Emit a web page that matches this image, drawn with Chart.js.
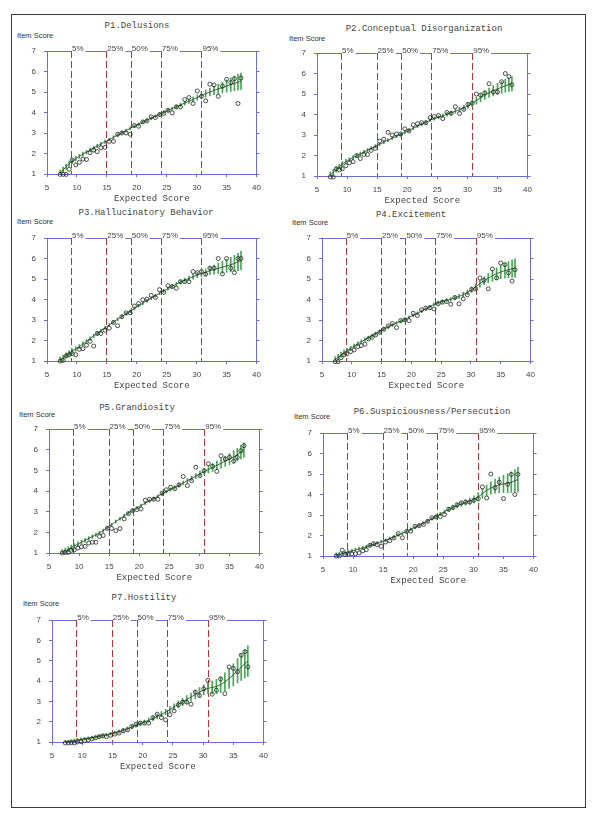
<!DOCTYPE html>
<html>
<head>
<meta charset="utf-8">
<script src="https://cdn.jsdelivr.net/npm/chart.js@4.4.1/dist/chart.umd.min.js"></script>
<style>
body { margin: 0; background: #fff; width: 600px; height: 822px; position: relative; overflow: hidden; }
#frame { position: absolute; left: 11px; top: 14px; width: 573px; height: 792px; border: 1.5px solid #3a3a3a; }
.ttl { position: absolute; font: 9px "Liberation Mono", monospace; color: #444; white-space: nowrap; transform: translate(-50%, -50%); }
.ylab { position: absolute; font: 7.5px "Liberation Sans", Arial, sans-serif; color: #333; white-space: nowrap; transform: translateY(-50%); }
canvas { position: absolute; }
</style>
</head>
<body>
<div id="frame"></div>
<script>
// expected score positions (shared by all items)
const xs = [7.2, 7.7, 8.2, 8.7, 9.2, 9.8, 10.4, 11.0, 11.6, 12.2, 12.8, 13.4, 14.0, 14.7, 15.4, 16.1, 16.8, 17.5, 18.2, 18.9,
  19.6, 20.3, 21.0, 21.7, 22.4, 23.1, 23.8, 24.5, 25.2, 25.9, 26.6, 27.3, 28.0, 28.7, 29.4, 30.1, 30.8, 31.5, 32.2, 32.9,
  33.6, 34.3, 35.0, 35.7, 36.3, 36.9, 37.4];

const xTicks = [5, 10, 15, 20, 25, 30, 35, 40];
const yTicks = [1, 2, 3, 4, 5, 6, 7];
const pctValues = [9.0, 14.9, 19.0, 24.0, 30.8];
const pctLabels = ['5%', '25%', '50%', '75%', '95%'];

const titles = ['P1.Delusions', 'P2.Conceptual Disorganization', 'P3.Hallucinatory Behavior', 'P4.Excitement',
  'P5.Grandiosity', 'P6.Suspiciousness/Persecution', 'P7.Hostility'];

// P1
const p1Exp = [1.05, 1.2, 1.35, 1.5, 1.62, 1.75, 1.86, 1.97, 2.07, 2.17, 2.27, 2.37, 2.46, 2.57, 2.68, 2.79, 2.9, 3.01, 3.12, 3.23,
  3.33, 3.43, 3.53, 3.63, 3.72, 3.82, 3.91, 4.01, 4.1, 4.19, 4.28, 4.37, 4.46, 4.55, 4.64, 4.73, 4.83, 4.92, 5.0, 5.08,
  5.15, 5.22, 5.29, 5.36, 5.42, 5.48, 5.52];
const p1Obs = [0.98, 0.98, 0.98, 1.23, 1.68, 1.44, 1.57, 1.73, 1.71, 2.04, 2.17, 2.09, 2.28, 2.3, 2.59, 2.59, 2.94, 3.0, 3.0, 2.94,
  3.37, 3.33, 3.54, 3.59, 3.79, 3.75, 3.9, 3.95, 4.11, 3.98, 4.27, 4.27, 4.63, 4.73, 4.44, 5.05, 4.79, 4.57, 5.38, 5.34,
  4.79, 5.28, 5.62, 5.46, 5.65, 4.44, 5.68];
const p1Err = [0.14, 0.14, 0.13, 0.13, 0.12, 0.11, 0.1, 0.1, 0.09, 0.09, 0.08, 0.08, 0.08, 0.08, 0.07, 0.07, 0.07, 0.07, 0.07, 0.07,
  0.07, 0.07, 0.07, 0.07, 0.07, 0.07, 0.07, 0.08, 0.08, 0.08, 0.09, 0.09, 0.1, 0.11, 0.12, 0.13, 0.15, 0.17, 0.19, 0.21,
  0.24, 0.27, 0.3, 0.33, 0.36, 0.38, 0.4];

// P2
const p2Exp = [1.05, 1.18, 1.32, 1.46, 1.58, 1.7, 1.8, 1.9, 1.99, 2.08, 2.17, 2.26, 2.35, 2.45, 2.55, 2.65, 2.75, 2.84, 2.93, 3.03,
  3.13, 3.23, 3.33, 3.43, 3.53, 3.62, 3.72, 3.8, 3.87, 3.94, 4.01, 4.08, 4.16, 4.24, 4.33, 4.43, 4.55, 4.68, 4.82, 4.95,
  5.06, 5.16, 5.25, 5.33, 5.4, 5.46, 5.5];
const p2Obs = [0.95, 0.95, 1.35, 1.3, 1.35, 1.5, 1.65, 1.7, 2.0, 1.85, 2.05, 2.05, 2.25, 2.35, 2.7, 2.8, 3.13, 3.0, 3.05, 3.05,
  3.3, 3.2, 3.5, 3.55, 3.6, 3.6, 3.85, 3.9, 3.95, 3.8, 4.1, 4.05, 4.38, 4.05, 4.25, 4.5, 4.55, 5.0, 4.95, 5.05,
  5.5, 5.1, 5.1, 5.6, 6.0, 5.85, 5.45];
const p2Err = [0.14, 0.14, 0.13, 0.12, 0.12, 0.11, 0.1, 0.1, 0.09, 0.09, 0.08, 0.08, 0.08, 0.08, 0.07, 0.07, 0.07, 0.07, 0.07, 0.07,
  0.07, 0.07, 0.07, 0.07, 0.07, 0.07, 0.07, 0.08, 0.08, 0.08, 0.09, 0.09, 0.1, 0.11, 0.12, 0.13, 0.15, 0.17, 0.19, 0.21,
  0.23, 0.25, 0.27, 0.29, 0.31, 0.33, 0.35];

// P3
const p3Exp = [1.05, 1.15, 1.27, 1.38, 1.48, 1.59, 1.7, 1.83, 1.96, 2.09, 2.22, 2.35, 2.48, 2.62, 2.76, 2.9, 3.04, 3.17, 3.3, 3.43,
  3.56, 3.69, 3.82, 3.94, 4.06, 4.18, 4.3, 4.42, 4.53, 4.64, 4.75, 4.85, 4.94, 5.03, 5.11, 5.19, 5.26, 5.33, 5.4, 5.46,
  5.52, 5.58, 5.64, 5.7, 5.76, 5.83, 5.9];
const p3Obs = [1.0, 1.03, 1.25, 1.3, 1.36, 1.31, 1.57, 1.6, 1.77, 1.96, 1.73, 2.34, 2.34, 2.5, 2.6, 2.88, 2.72, 3.16, 3.35, 3.35,
  3.68, 3.8, 3.99, 4.02, 4.2, 4.1, 4.48, 4.35, 4.68, 4.63, 4.55, 4.87, 4.87, 4.87, 5.36, 5.31, 5.36, 5.23, 5.53, 5.53,
  6.0, 5.25, 6.0, 5.53, 5.31, 6.0, 6.0];
const p3Err = [0.14, 0.14, 0.13, 0.13, 0.12, 0.11, 0.1, 0.1, 0.09, 0.09, 0.08, 0.08, 0.08, 0.08, 0.07, 0.07, 0.07, 0.07, 0.07, 0.07,
  0.07, 0.07, 0.07, 0.07, 0.07, 0.07, 0.07, 0.08, 0.08, 0.08, 0.09, 0.09, 0.1, 0.11, 0.12, 0.13, 0.15, 0.17, 0.19, 0.22,
  0.26, 0.29, 0.32, 0.36, 0.39, 0.42, 0.45];

// P4
const p4Exp = [1.07, 1.18, 1.3, 1.41, 1.51, 1.62, 1.73, 1.84, 1.94, 2.04, 2.13, 2.23, 2.33, 2.44, 2.56, 2.66, 2.76, 2.85, 2.94, 3.03,
  3.13, 3.23, 3.33, 3.43, 3.54, 3.65, 3.76, 3.84, 3.9, 3.96, 4.01, 4.07, 4.15, 4.24, 4.35, 4.47, 4.62, 4.77, 4.91, 5.04,
  5.16, 5.26, 5.34, 5.41, 5.46, 5.5, 5.53];
const p4Obs = [0.97, 0.97, 1.16, 1.3, 1.35, 1.46, 1.54, 1.7, 1.75, 1.82, 2.08, 2.16, 2.27, 2.4, 2.55, 2.71, 2.83, 2.63, 2.97, 3.0,
  2.97, 3.33, 3.22, 3.5, 3.58, 3.6, 3.54, 3.79, 3.87, 3.9, 3.77, 4.1, 3.79, 4.03, 4.23, 4.49, 4.52, 5.05, 4.93, 4.52,
  5.49, 5.05, 5.78, 5.7, 5.3, 4.9, 5.45];
const p4Err = [0.14, 0.14, 0.13, 0.13, 0.12, 0.11, 0.1, 0.1, 0.09, 0.09, 0.08, 0.08, 0.08, 0.08, 0.07, 0.07, 0.07, 0.07, 0.07, 0.07,
  0.07, 0.07, 0.07, 0.07, 0.07, 0.07, 0.07, 0.08, 0.08, 0.08, 0.09, 0.09, 0.1, 0.11, 0.12, 0.13, 0.15, 0.17, 0.19, 0.22,
  0.26, 0.29, 0.32, 0.36, 0.39, 0.42, 0.45];

// P5
const p5Exp = [1.03, 1.1, 1.18, 1.26, 1.34, 1.43, 1.52, 1.61, 1.7, 1.79, 1.88, 1.97, 2.08, 2.22, 2.37, 2.52, 2.66, 2.8, 2.94, 3.06,
  3.18, 3.3, 3.41, 3.52, 3.63, 3.75, 3.86, 3.97, 4.07, 4.17, 4.28, 4.39, 4.5, 4.61, 4.72, 4.83, 4.94, 5.04, 5.14, 5.24,
  5.34, 5.44, 5.54, 5.65, 5.76, 5.88, 5.98];
const p5Obs = [1.0, 1.03, 1.03, 1.13, 1.15, 1.24, 1.3, 1.32, 1.48, 1.52, 1.52, 1.8, 1.85, 2.19, 2.19, 2.08, 2.18, 2.65, 2.9, 3.05,
  3.1, 3.13, 3.55, 3.6, 3.6, 3.6, 3.9, 4.06, 4.18, 4.11, 4.3, 4.7, 4.26, 4.5, 5.15, 4.74, 4.98, 5.32, 5.19, 4.95,
  5.71, 5.55, 5.63, 5.44, 5.63, 5.95, 6.19];
const p5Err = [0.14, 0.14, 0.13, 0.12, 0.12, 0.11, 0.1, 0.1, 0.09, 0.09, 0.08, 0.08, 0.08, 0.08, 0.07, 0.07, 0.07, 0.07, 0.07, 0.07,
  0.07, 0.07, 0.07, 0.07, 0.07, 0.07, 0.07, 0.08, 0.08, 0.08, 0.09, 0.09, 0.1, 0.11, 0.12, 0.13, 0.15, 0.17, 0.19, 0.21,
  0.23, 0.25, 0.27, 0.29, 0.31, 0.33, 0.35];

// P6
const p6Exp = [1.05, 1.08, 1.12, 1.16, 1.2, 1.25, 1.3, 1.35, 1.4, 1.45, 1.51, 1.57, 1.63, 1.7, 1.77, 1.85, 1.93, 2.02, 2.11, 2.2,
  2.3, 2.4, 2.5, 2.6, 2.71, 2.82, 2.93, 3.05, 3.16, 3.27, 3.37, 3.46, 3.54, 3.61, 3.68, 3.76, 3.88, 4.05, 4.2, 4.32,
  4.41, 4.47, 4.51, 4.55, 4.6, 4.67, 4.73];
const p6Obs = [1.0, 1.0, 1.28, 1.08, 1.1, 1.11, 1.11, 1.15, 1.25, 1.31, 1.52, 1.6, 1.55, 1.47, 1.68, 1.75, 1.88, 2.09, 1.89, 2.2,
  2.22, 2.45, 2.48, 2.54, 2.69, 2.87, 2.9, 2.93, 3.02, 3.28, 3.36, 3.5, 3.59, 3.63, 3.63, 3.72, 3.8, 4.37, 3.83, 5.0,
  4.33, 4.6, 3.8, 4.5, 4.98, 4.0, 4.98];
const p6Err = [0.1, 0.1, 0.1, 0.09, 0.09, 0.09, 0.08, 0.08, 0.08, 0.08, 0.07, 0.07, 0.07, 0.07, 0.07, 0.07, 0.07, 0.07, 0.07, 0.07,
  0.07, 0.07, 0.07, 0.07, 0.07, 0.07, 0.08, 0.08, 0.08, 0.09, 0.1, 0.11, 0.12, 0.13, 0.15, 0.17, 0.2, 0.23, 0.26, 0.3,
  0.34, 0.38, 0.42, 0.46, 0.5, 0.55, 0.6];

// P7
const p7Exp = [1.0, 1.02, 1.04, 1.07, 1.1, 1.13, 1.16, 1.19, 1.22, 1.25, 1.28, 1.32, 1.36, 1.41, 1.46, 1.52, 1.58, 1.65, 1.73, 1.82,
  1.9, 1.98, 2.07, 2.16, 2.26, 2.36, 2.47, 2.59, 2.72, 2.85, 2.97, 3.09, 3.21, 3.33, 3.45, 3.56, 3.64, 3.68, 3.73, 3.82,
  3.96, 4.12, 4.3, 4.5, 4.68, 4.85, 4.98];
const p7Obs = [0.95, 0.95, 0.97, 0.95, 1.0, 1.02, 1.07, 1.1, 1.15, 1.2, 1.26, 1.3, 1.26, 1.33, 1.39, 1.44, 1.55, 1.6, 1.77, 1.88,
  1.93, 1.93, 1.93, 2.2, 2.37, 2.2, 2.09, 2.34, 2.53, 2.83, 2.96, 2.96, 2.86, 3.45, 3.28, 3.61, 4.03, 3.35, 3.55, 4.1,
  3.38, 4.69, 4.62, 4.46, 5.27, 5.44, 4.7];
const p7Err = [0.08, 0.08, 0.08, 0.08, 0.08, 0.08, 0.07, 0.07, 0.07, 0.07, 0.07, 0.07, 0.07, 0.07, 0.07, 0.08, 0.08, 0.08, 0.09, 0.09,
  0.1, 0.1, 0.11, 0.11, 0.12, 0.13, 0.14, 0.15, 0.16, 0.17, 0.18, 0.19, 0.2, 0.21, 0.23, 0.25, 0.28, 0.31, 0.35, 0.39,
  0.44, 0.49, 0.54, 0.6, 0.65, 0.7, 0.75];

const series = [
  [p1Exp, p1Obs, p1Err], [p2Exp, p2Obs, p2Err], [p3Exp, p3Obs, p3Err], [p4Exp, p4Obs, p4Err],
  [p5Exp, p5Obs, p5Err], [p6Exp, p6Obs, p6Err], [p7Exp, p7Obs, p7Err]
];

// plot boxes and text spots on the page
const layout = [
  { l: 47, t: 51, r: 259, b: 174, tx: 137, ty: 25, ix: 17, iy: 35 },
  { l: 317, t: 53, r: 530, b: 176, tx: 424, ty: 28, ix: 289, iy: 38 },
  { l: 47, t: 238, r: 259, b: 361, tx: 146, ty: 212, ix: 17, iy: 221 },
  { l: 322, t: 238, r: 533, b: 361, tx: 411, ty: 214, ix: 292, iy: 222 },
  { l: 49, t: 429, r: 262, b: 553, tx: 137, ty: 407, ix: 19, iy: 414 },
  { l: 323, t: 433, r: 536, b: 556, tx: 432, ty: 411, ix: 294, iy: 416 },
  { l: 52, t: 620, r: 266, b: 742, tx: 144, ty: 597, ix: 23, iy: 603 }
];

const blue = '#6d6dd0';
const sans = '"Liberation Sans", Arial, sans-serif';
const mono = '"Liberation Mono", "DejaVu Sans Mono", monospace';

const pctPlugin = {
  id: 'pct',
  beforeDatasetsDraw(chart) {
    const { ctx, chartArea: a, scales: { x } } = chart;
    ctx.save();
    ctx.strokeStyle = '#b0363f';
    ctx.lineWidth = 1;
    ctx.setLineDash([7, 3]);
    pctValues.forEach(v => {
      const px = Math.round(x.getPixelForValue(v)) + 0.5;
      ctx.beginPath();
      ctx.moveTo(px, a.top);
      ctx.lineTo(px, a.bottom);
      ctx.stroke();
    });
    ctx.restore();
  },
  afterDraw(chart) {
    const { ctx, chartArea: a, scales: { x } } = chart;
    ctx.save();
    ctx.font = '8px ' + sans;
    ctx.fillStyle = '#444';
    ctx.textBaseline = 'bottom';
    ctx.strokeStyle = blue;
    ctx.lineWidth = 1;
    const y = Math.round(a.top) + 0.5;
    let start = a.left;
    pctValues.forEach((v, i) => {
      const px = x.getPixelForValue(v);
      ctx.beginPath();
      ctx.moveTo(start, y);
      ctx.lineTo(px, y);
      ctx.stroke();
      ctx.fillText(pctLabels[i], px + 1, a.top + 2);
      start = px + 3 + ctx.measureText(pctLabels[i]).width;
    });
    ctx.beginPath();
    ctx.moveTo(start, y);
    ctx.lineTo(a.right, y);
    ctx.stroke();
    ctx.restore();
  }
};

function addText(cls, txt, x, y) {
  const d = document.createElement('div');
  d.className = cls;
  d.textContent = txt;
  d.style.left = x + 'px';
  d.style.top = y + 'px';
  document.body.appendChild(d);
}

const tickSet = vals => s => { s.ticks = vals.map(v => ({ value: v })); };

series.forEach((s, k) => {
  const [exp, obs, err] = s;
  const L = layout[k];
  addText('ttl', titles[k], L.tx, L.ty + 1);
  addText('ylab', 'Item Score', L.ix, L.iy);

  const W = L.r - L.l + 30 + 8;
  const H = L.b - L.t + 14 + 32;
  const cv = document.createElement('canvas');
  cv.width = W; cv.height = H;
  cv.style.left = (L.l - 30) + 'px';
  cv.style.top = (L.t - 14) + 'px';
  cv.style.width = W + 'px';
  cv.style.height = H + 'px';
  document.body.appendChild(cv);

  new Chart(cv, {
    type: 'scatter',
    data: {
      datasets: [
        {
          type: 'scatter',
          data: xs.map((x, i) => ({ x: x, y: obs[i] })),
          pointStyle: 'circle',
          pointRadius: 2,
          pointBorderWidth: 0.8,
          borderColor: '#222',
          backgroundColor: 'rgba(0,0,0,0)',
          clip: false,
          order: 0
        },
        {
          type: 'line',
          data: xs.map((x, i) => ({ x: x, y: exp[i] })),
          borderColor: '#333',
          borderWidth: 0.8,
          pointRadius: 0,
          tension: 0,
          fill: false,
          order: 1
        },
        {
          type: 'bar',
          data: xs.map((x, i) => ({ x: x, y: [exp[i] - err[i], exp[i] + err[i]] })),
          backgroundColor: '#46a852',
          barThickness: 1,
          borderWidth: 0,
          order: 2
        }
      ]
    },
    options: {
      responsive: false,
      animation: false,
      devicePixelRatio: 1,
      events: [],
      layout: { padding: { top: 14, left: 0, right: 0, bottom: 0 } },
      plugins: { legend: { display: false }, tooltip: { enabled: false } },
      scales: {
        x: {
          type: 'linear', min: 5, max: 40, offset: false,
          afterBuildTicks: tickSet(xTicks),
          afterFit: sc => { sc.height = 32; },
          grid: { drawOnChartArea: false, tickLength: 3, color: blue, offset: false },
          border: { color: blue },
          ticks: { font: { family: sans, size: 8 }, color: '#444', padding: 6, maxRotation: 0, autoSkip: false },
          title: { display: true, text: 'Expected Score', font: { family: mono, size: 9 }, color: '#444', padding: { top: 0, bottom: 2 } }
        },
        y: {
          type: 'linear', min: 1, max: 7, position: 'left',
          afterBuildTicks: tickSet(yTicks),
          afterFit: sc => { sc.width = 30; },
          grid: { drawOnChartArea: false, tickLength: 3, color: blue },
          border: { color: blue },
          ticks: { font: { family: sans, size: 8 }, color: '#444', padding: 8 }
        },
        y2: {
          type: 'linear', min: 1, max: 7, position: 'right',
          afterBuildTicks: tickSet(yTicks),
          afterFit: sc => { sc.width = 8; },
          grid: { drawOnChartArea: false, tickLength: 3, color: blue },
          border: { color: blue },
          ticks: { display: false }
        }
      }
    },
    plugins: [pctPlugin]
  });
});
</script>
</body>
</html>
